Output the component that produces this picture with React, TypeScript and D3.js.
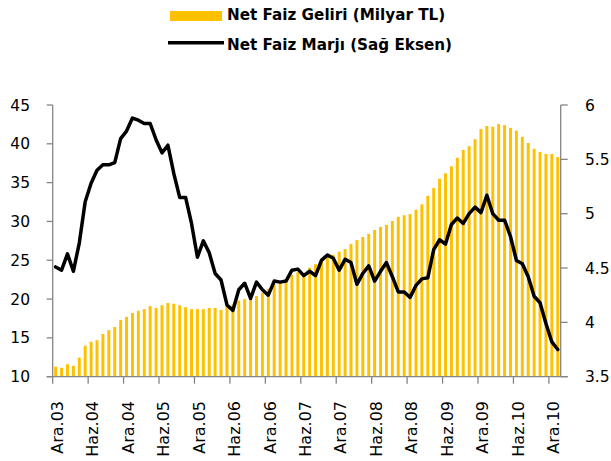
import React from "react";
import * as d3 from "d3";

const categories: string[] = (() => {
  const months = ["Oca", "Şub", "Mar", "Nis", "May", "Haz", "Tem", "Ağu", "Eyl", "Eki", "Kas", "Ara"];
  const out: string[] = [];
  let m = 11, y = 3;
  for (let i = 0; i < 86; i++) {
    out.push(`${months[m]}.${String(y).padStart(2, "0")}`);
    m++;
    if (m === 12) { m = 0; y++; }
  }
  return out;
})();

const tickLabels = ["Ara.03", "Haz.04", "Ara.04", "Haz.05", "Ara.05", "Haz.06", "Ara.06", "Haz.07", "Ara.07", "Haz.08", "Ara.08", "Haz.09", "Ara.09", "Haz.10", "Ara.10"];

const netFaizGeliri: number[] = [
  11.3, 11.15, 11.6, 11.4, 12.45, 14.0, 14.5, 14.7, 15.5, 16.0,
  16.4, 17.3, 17.7, 18.2, 18.5, 18.7, 19.1, 18.85, 19.2, 19.5,
  19.4, 19.2, 18.95, 18.7, 18.7, 18.7, 18.85, 18.85, 18.6, 19.2,
  19.3, 19.8, 20.0, 20.2, 20.4, 20.8, 21.3, 22.0, 22.1, 22.2,
  23.1, 23.45, 23.1, 24.05, 24.5, 25.0, 25.7, 25.7, 26.1, 26.45,
  27.1, 27.6, 28.0, 28.4, 28.9, 29.3, 29.55, 30.05, 30.6, 30.8,
  30.95, 31.5, 32.2, 33.3, 34.3, 35.5, 36.2, 37.1, 38.2, 39.2,
  39.7, 40.6, 41.9, 42.3, 42.2, 42.55, 42.4, 42.05, 41.7, 40.9,
  40.1, 39.35, 38.95, 38.7, 38.7, 38.3,
];

const netFaizMarji: number[] = [
  4.51, 4.48, 4.63, 4.47, 4.73, 5.11, 5.28, 5.40, 5.45, 5.45,
  5.47, 5.69, 5.76, 5.88, 5.86, 5.83, 5.83, 5.68, 5.56, 5.63,
  5.37, 5.15, 5.15, 4.91, 4.60, 4.75, 4.64, 4.45, 4.39, 4.16,
  4.11, 4.30, 4.36, 4.22, 4.37, 4.30, 4.25, 4.38, 4.37, 4.38,
  4.48, 4.49, 4.43, 4.47, 4.43, 4.57, 4.62, 4.59, 4.48, 4.58,
  4.55, 4.35, 4.45, 4.52, 4.38, 4.47, 4.55, 4.42, 4.28, 4.28,
  4.23, 4.34, 4.40, 4.41, 4.67, 4.76, 4.72, 4.90, 4.96, 4.91,
  5.00, 5.06, 5.01, 5.17, 5.00, 4.94, 4.94, 4.79, 4.57, 4.54,
  4.42, 4.24, 4.18, 3.99, 3.82, 3.75,
];

const leftTicks = [10, 15, 20, 25, 30, 35, 40, 45];
const rightTicks = [3.5, 4, 4.5, 5, 5.5, 6];
const rightTickLabels = ["3.5", "4", "4.5", "5", "5.5", "6"];

const seriesNames = ["Net Faiz Geliri (Milyar TL)", "Net Faiz Marjı (Sağ Eksen)"];

const W = 611, H = 461;
const left = 52.7, right = 560.7, top = 105, bottom = 376.7;
const axisColor = "#868686";
const barColor = "#FFC000";
const font = "'DejaVu Sans', sans-serif";

export default function App() {
  const x = d3.scaleBand<string>().domain(categories).range([left, right]).paddingInner(0).paddingOuter(0);
  const yL = d3.scaleLinear().domain([10, 45]).range([bottom, top]);
  const yR = d3.scaleLinear().domain([3.5, 6]).range([bottom, top]);
  const bw = x.bandwidth();
  const barW = bw * 0.5;

  const line = d3
    .line<number>()
    .x((_, i) => (x(categories[i]) as number) + bw / 2)
    .y((d) => yR(d))
    .curve(d3.curveLinear);

  const tickIdx = tickLabels.map((_, k) => k * 6);

  return (
    <svg width={W} height={H} style={{ position: "absolute", left: 0, top: 0, background: "#fff" }}>
      {netFaizGeliri.map((v, i) => (
        <rect
          key={i}
          x={(x(categories[i]) as number) + (bw - barW) / 2}
          y={yL(v)}
          width={barW}
          height={bottom - yL(v)}
          fill={barColor}
        />
      ))}
      <line x1={left} x2={left} y1={top} y2={bottom} stroke={axisColor} strokeWidth={1.3} />
      {leftTicks.map((t) => (
        <g key={t}>
          <line x1={left - 6} x2={left} y1={yL(t)} y2={yL(t)} stroke={axisColor} strokeWidth={1.3} />
          <text x={30} y={yL(t)} dy="0.36em" textAnchor="end" fontFamily={font} fontSize={15.5} fill="#000">
            {t}
          </text>
        </g>
      ))}
      <line x1={right} x2={right} y1={top} y2={bottom} stroke={axisColor} strokeWidth={1.3} />
      {rightTicks.map((t, i) => (
        <g key={t}>
          <line x1={right} x2={right + 7} y1={yR(t)} y2={yR(t)} stroke={axisColor} strokeWidth={1.3} />
          <text x={585} y={yR(t)} dy="0.36em" textAnchor="start" fontFamily={font} fontSize={15.5} fill="#000">
            {rightTickLabels[i]}
          </text>
        </g>
      ))}
      <line x1={left - 6} x2={right + 7} y1={bottom} y2={bottom} stroke={axisColor} strokeWidth={1.3} />
      {tickIdx.map((idx, k) => {
        const xt = x(categories[idx]) as number;
        const xc = xt + bw / 2 + 1.5;
        return (
          <g key={k}>
            <line x1={xt} x2={xt} y1={bottom} y2={bottom + 7} stroke={axisColor} strokeWidth={1.3} />
            <text
              transform={`translate(${xc},401) rotate(-90)`}
              dy="0.36em"
              textAnchor="end"
              fontFamily={font}
              fontSize={16}
              fill="#000"
            >
              {tickLabels[k]}
            </text>
          </g>
        );
      })}
      <path d={line(netFaizMarji) || ""} fill="none" stroke="#000" strokeWidth={3.5} strokeLinejoin="round" strokeLinecap="round" />
      <rect x={170} y={11} width={52} height={10} fill={barColor} />
      <text x={227} y={19.5} fontFamily={font} fontWeight="bold" fontSize={15.2} fill="#000">
        {seriesNames[0]}
      </text>
      <line x1={168} x2={224} y1={42.7} y2={42.7} stroke="#000" strokeWidth={3.5} />
      <text x={227} y={49.5} fontFamily={font} fontWeight="bold" fontSize={15.2} fill="#000">
        {seriesNames[1]}
      </text>
    </svg>
  );
}
